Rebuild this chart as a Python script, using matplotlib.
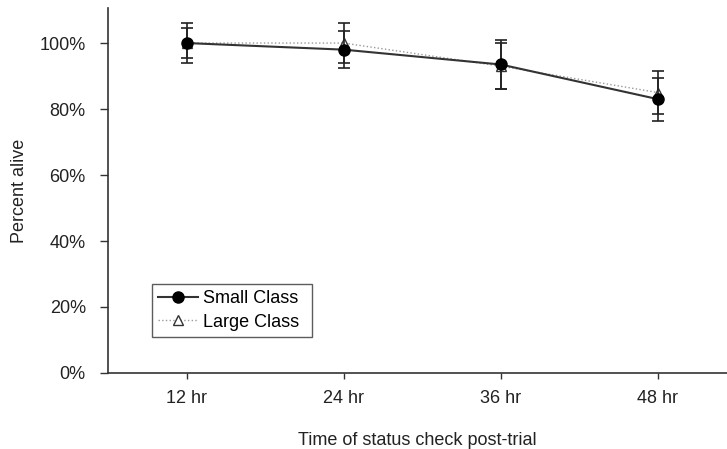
import matplotlib.pyplot as plt
from matplotlib.lines import Line2D
from matplotlib.ticker import FuncFormatter

plt.rcParams["font.family"] = ["Liberation Sans", "DejaVu Sans"]

times = ["12 hr", "24 hr", "36 hr", "48 hr"]
small_pct = [100, 98, 93.5, 83]
small_err = [6, 5.7, 7.3, 6.5]
large_pct = [100, 100, 93, 85]
large_err = [4.5, 6, 7, 6.5]

fig = plt.figure(figsize=(7.27, 4.49), dpi=100)
ax = fig.add_axes([0.1486, 0.1693, 0.8514, 0.8127])

x = range(1, len(times) + 1)

ax.errorbar(x, large_pct, yerr=large_err, color="#999999", linestyle=":",
            linewidth=1, marker="^", markersize=7, markerfacecolor="white",
            markeredgecolor="#333333", ecolor="#222222", elinewidth=1.2,
            capsize=4, capthick=1.2, zorder=2)
ax.errorbar(x, small_pct, yerr=small_err, color="#333333", linestyle="-",
            linewidth=1.5, marker="o", markersize=8, markerfacecolor="black",
            markeredgecolor="black", ecolor="#222222", elinewidth=1.2,
            capsize=4, capthick=1.2, zorder=3)

ax.set_xlim(0.5, 4.44)
ax.set_ylim(0, 110.6)
ax.set_xticks(list(x))
ax.set_xticklabels(times)
ax.set_yticks([0, 20, 40, 60, 80, 100])
ax.yaxis.set_major_formatter(FuncFormatter(lambda v, p: f"{v:.0f}%"))

for s in ["top", "right"]:
    ax.spines[s].set_visible(False)
for s in ["left", "bottom"]:
    ax.spines[s].set_color("#333333")
    ax.spines[s].set_linewidth(1.2)

ax.tick_params(axis="y", length=6, width=1, color="#333333", labelsize=13,
               labelcolor="#222222", pad=10)
ax.tick_params(axis="x", length=4, width=1, color="#333333", labelsize=13,
               labelcolor="#222222", pad=8)

ax.set_ylabel("Percent alive", fontsize=13, color="#222222", labelpad=8)
ax.set_xlabel("Time of status check post-trial", fontsize=13, color="#222222",
              labelpad=18)

handles = [
    Line2D([], [], color="#333333", linestyle="-", linewidth=1.5, marker="o",
           markersize=8, markerfacecolor="black", markeredgecolor="black"),
    Line2D([], [], color="#999999", linestyle=":", linewidth=1, marker="^",
           markersize=7, markerfacecolor="white", markeredgecolor="#333333"),
]
leg = ax.legend(handles, ["Small Class", "Large Class"], loc="lower left",
                bbox_to_anchor=(143 / 727, 1 - 346 / 449, 178 / 727, 58 / 449),
                bbox_transform=fig.transFigure, mode="expand",
                fontsize=13, frameon=True, fancybox=False, borderpad=0.35,
                handlelength=2.2, labelspacing=0.35, handletextpad=0.3)
leg.get_frame().set_edgecolor("#333333")
leg.get_frame().set_linewidth(1)

fig.savefig("out.png", dpi=100)
